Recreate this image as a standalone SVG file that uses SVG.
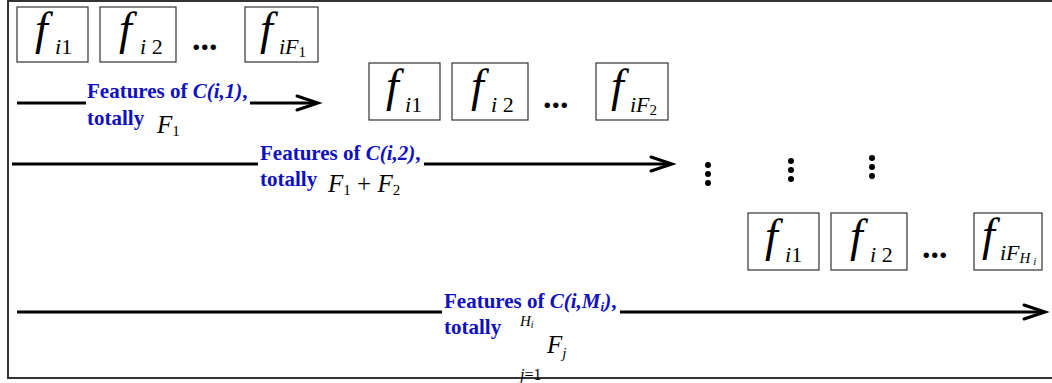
<svg xmlns="http://www.w3.org/2000/svg" width="1052" height="383" viewBox="0 0 1052 383">
<style>
.frame{fill:none;stroke:#333;stroke-width:2}
.box{fill:#fff;stroke:#333;stroke-width:1.2}
.f{font-family:"Liberation Serif","Times New Roman",serif;font-style:italic;font-size:46px;fill:#000}
.sub{font-family:"Liberation Serif","Times New Roman",serif;font-size:22px;fill:#000}
.it{font-style:italic}
.ss{font-size:15px}
.dots{font-family:"Liberation Serif","Times New Roman",serif;font-weight:bold;font-size:34px;fill:#000}
.lbl{font-family:"Liberation Serif","Times New Roman",serif;font-weight:bold;font-size:21px;fill:#1010c0}
.m{font-family:"Liberation Serif","Times New Roman",serif;font-size:25px;fill:#000}
.conn{stroke:#000;stroke-width:3;fill:none}
.head{stroke:#000;stroke-width:3;fill:none;stroke-linecap:round;stroke-linejoin:miter}
</style>
<rect class="frame" x="8" y="1" width="1060" height="377"/>
<g id="row1">
 <g id="r1b1"><rect class="box" x="17" y="7" width="71" height="55"/><text class="f" x="35" y="44">f</text><text class="sub" x="55" y="54"><tspan class="it">i</tspan>1</text></g>
 <g id="r1b2"><rect class="box" x="100" y="7" width="76" height="55"/><text class="f" x="119" y="44">f</text><text class="sub" x="140" y="54"><tspan class="it">i</tspan> 2</text></g>
 <g id="r1dots"><text class="dots" x="192" y="50">...</text></g>
 <g id="r1b3"><rect class="box" x="245" y="7" width="73" height="55"/><text class="f" x="260" y="44">f</text><text class="sub" x="279" y="54"><tspan class="it">iF</tspan><tspan class="ss" dy="3">1</tspan></text></g>
</g>
<g id="row2">
 <g id="r2b1"><rect class="box" x="369" y="63" width="71" height="57"/><text class="f" x="386" y="101">f</text><text class="sub" x="405" y="112"><tspan class="it">i</tspan>1</text></g>
 <g id="r2b2"><rect class="box" x="452" y="63" width="76" height="57"/><text class="f" x="471" y="101">f</text><text class="sub" x="491" y="112"><tspan class="it">i</tspan> 2</text></g>
 <g id="r2dots"><text class="dots" x="543" y="108">...</text></g>
 <g id="r2b3"><rect class="box" x="596" y="63" width="72" height="57"/><text class="f" x="611" y="101">f</text><text class="sub" x="630" y="112"><tspan class="it">iF</tspan><tspan class="ss" dy="3">2</tspan></text></g>
</g>
<g id="vdots" fill="#000">
 <circle cx="708" cy="165" r="3"/><circle cx="708" cy="174" r="3"/><circle cx="708" cy="183" r="3"/>
 <circle cx="791" cy="161" r="3"/><circle cx="791" cy="170" r="3"/><circle cx="791" cy="179" r="3"/>
 <circle cx="872" cy="158" r="3"/><circle cx="872" cy="167" r="3"/><circle cx="872" cy="176" r="3"/>
</g>
<g id="row3">
 <g id="r3b1"><rect class="box" x="748" y="213" width="71" height="57"/><text class="f" x="765" y="251">f</text><text class="sub" x="785" y="262"><tspan class="it">i</tspan>1</text></g>
 <g id="r3b2"><rect class="box" x="831" y="213" width="76" height="57"/><text class="f" x="850" y="251">f</text><text class="sub" x="870" y="262"><tspan class="it">i</tspan> 2</text></g>
 <g id="r3dots"><text class="dots" x="922" y="258">...</text></g>
 <g id="r3b3"><rect class="box" x="974" y="213" width="68" height="57"/><text class="f" x="982" y="250">f</text><text class="sub" x="1000" y="260"><tspan class="it">iF</tspan><tspan class="ss it" dy="3">H</tspan><tspan class="it" font-size="11px" dy="2"> i</tspan></text></g>
</g>
<g id="connectors">
 <line class="conn" x1="17" y1="103" x2="86" y2="103"/>
 <line class="conn" x1="250" y1="103" x2="317" y2="103"/>
 <polyline class="head" points="297,96 318,103 297,110"/>
 <line class="conn" x1="12" y1="164" x2="258" y2="164"/>
 <line class="conn" x1="424" y1="164" x2="671" y2="164"/>
 <polyline class="head" points="651,157 672,164 651,171"/>
 <line class="conn" x1="17" y1="312" x2="442" y2="312"/>
 <line class="conn" x1="620" y1="312" x2="1044" y2="312"/>
 <polyline class="head" points="1024,305 1045,312 1024,319"/>
</g>
<g id="label1">
 <text class="lbl" x="87" y="98">Features of <tspan font-style="italic">C(i,1)</tspan>,</text>
 <text class="lbl" x="87" y="125">totally</text>
 <text class="m" x="157" y="133"><tspan class="it">F</tspan><tspan font-size="15px" dy="3">1</tspan></text>
</g>
<g id="label2">
 <text class="lbl" x="260" y="160">Features of <tspan font-style="italic">C(i,2)</tspan>,</text>
 <text class="lbl" x="260" y="186">totally</text>
 <text class="m" x="328" y="192"><tspan class="it">F</tspan><tspan font-size="15px" dy="3">1</tspan><tspan dy="-3"> + </tspan><tspan class="it">F</tspan><tspan font-size="15px" dy="3">2</tspan></text>
</g>
<g id="label3">
 <text class="lbl" x="444" y="308">Features of <tspan font-style="italic">C(i,M<tspan font-size="13px" dy="3">i</tspan><tspan dy="-3">)</tspan></tspan>,</text>
 <text class="lbl" x="444" y="334">totally</text>
 <text x="520" y="326" font-family="Liberation Serif,serif" font-size="15px" font-style="italic">H<tspan font-size="10px" dy="2">i</tspan></text>
 <text class="m" x="547" y="353"><tspan class="it">F</tspan><tspan class="it" font-size="15px" dy="5">j</tspan></text>
 <text x="520" y="380" font-family="Liberation Serif,serif" font-size="16px"><tspan font-style="italic">j</tspan>=1</text>
</g>
</svg>
